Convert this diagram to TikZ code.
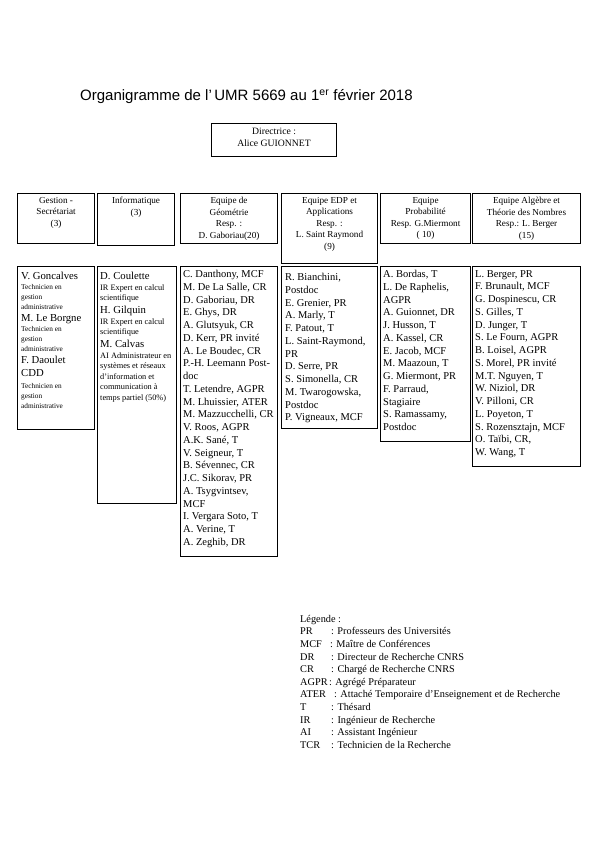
\documentclass[tikz,border=0pt]{standalone}
\usepackage{fontspec}
\setmainfont{Liberation Serif}
\newfontfamily\titrefont{Liberation Sans}
\newcommand{\nm}{\fontsize{10.7}{12}\selectfont}
\newcommand{\sm}{\fontsize{7.3}{9}\selectfont}
\newcommand{\si}{\fontsize{8.3}{9}\selectfont}
\newcommand{\abr}[2][31pt]{\makebox[#1][l]{#2}}
\tikzset{
  cadre/.style={draw,line width=1.1pt,inner sep=0pt,anchor=north west},
  entete/.style={anchor=north,align=center,inner sep=0pt,font=\fontsize{9.2}{11.5}\selectfont},
  liste/.style={anchor=north west,align=left,inner sep=0pt,font=\fontsize{10.5}{12.76}\selectfont},
  legende/.style={anchor=north west,align=left,inner sep=0pt,font=\fontsize{10.3}{12.6}\selectfont},
}
\begin{document}
\begin{tikzpicture}[x=1pt,y=-1pt]
  \useasboundingbox (0,0) rectangle (595,842);
  \node[anchor=base west,inner sep=0pt,font=\titrefont\fontsize{15}{17}\selectfont] (titre) at (80,101)
    {Organigramme de l’\,UMR 5669 au 1\textsuperscript{er} février 2018};
  % direction
  \node[cadre,minimum width=125,minimum height=33] (dir) at (211,123) {};
  \node[entete,font=\fontsize{9.7}{12.3}\selectfont] (dirtxt) at ([yshift=-5]dir.north) {Directrice :\\Alice GUIONNET};
  % services et equipes
  \node[cadre,minimum width=77,minimum height=50] (gest) at (17,193) {};
  \node[cadre,minimum width=77,minimum height=52] (info) at (97,193) {};
  \node[cadre,minimum width=97,minimum height=50] (geom) at (180,193) {};
  \node[cadre,minimum width=96,minimum height=70] (edp) at (281,193) {};
  \node[cadre,minimum width=90,minimum height=50] (prob) at (380,193) {};
  \node[cadre,minimum width=108,minimum height=50] (alg) at (472,193) {};
  \node[entete] (gesttxt) at ([yshift=-4]gest.north) {Gestion -\\Secrétariat\\(3)};
  \node[entete] (infotxt) at ([yshift=-4]info.north) {Informatique\\(3)};
  \node[entete] (geomtxt) at ([yshift=-4]geom.north) {Equipe de\\Géométrie\\Resp. :\\D. Gaboriau(20)};
  \node[entete] (edptxt) at ([yshift=-4]edp.north) {Equipe EDP et\\Applications\\Resp. :\\L. Saint Raymond\\(9)};
  \node[entete] (probtxt) at ([yshift=-4]prob.north) {Equipe\\Probabilité\\Resp. G.Miermont\\( 10)};
  \node[entete] (algtxt) at ([yshift=-4]alg.north) {Equipe Algèbre et\\Théorie des Nombres\\Resp.: L. Berger\\(15)};
  % listes des membres
  \node[cadre,minimum width=77,minimum height=163] (gestl) at (17,266) {};
  \node[cadre,minimum width=79,minimum height=237] (infol) at (97,266) {};
  \node[cadre,minimum width=97,minimum height=290] (geoml) at (180,266) {};
  \node[cadre,minimum width=96,minimum height=162] (edpl) at (281,266) {};
  \node[cadre,minimum width=90,minimum height=175] (probl) at (380,266) {};
  \node[cadre,minimum width=108,minimum height=200] (algl) at (472,266) {};
  \node[liste,font=\fontsize{10}{10}\selectfont] (gestnoms) at ([shift={(4,6)}]gestl.north west)
    {\nm V. Goncalves\\\sm Technicien en\\\sm gestion\\\sm administrative\\[2pt]
     \nm M. Le Borgne\\\sm Technicien en\\\sm gestion\\\sm administrative\\[2pt]
     \nm F. Daoulet\\[3pt]\nm CDD\\[2pt]\sm Technicien en\\\sm gestion\\\sm administrative};
  \node[liste,font=\fontsize{10}{10.5}\selectfont] (infonoms) at ([shift={(3,6)}]infol.north west)
    {\nm D. Coulette\\\si IR Expert en calcul\\\si scientifique\\[2.5pt]
     \nm H. Gilquin\\\si IR Expert en calcul\\\si scientifique\\[2.5pt]
     \nm M. Calvas\\\si AI Administrateur en\\\si systèmes et réseaux\\\si d’information et\\\si communication à\\\si temps partiel (50\%)};
  \node[liste] (geomnoms) at ([shift={(3,4)}]geoml.north west)
    {C. Danthony, MCF\\M. De La Salle, CR\\D. Gaboriau, DR\\E. Ghys, DR\\A. Glutsyuk, CR\\D. Kerr, PR invité\\
     A. Le Boudec, CR\\P.-H. Leemann Post-\\doc\\T. Letendre, AGPR\\M. Lhuissier, ATER\\M. Mazzucchelli, CR\\
     V. Roos, AGPR\\A.K. Sané, T\\V. Seigneur, T\\B. Sévennec, CR\\J.C. Sikorav, PR\\A. Tsygvintsev,\\MCF\\
     I. Vergara Soto, T\\A. Verine, T\\A. Zeghib, DR};
  \node[liste] (edpnoms) at ([shift={(4,7)}]edpl.north west)
    {R. Bianchini,\\Postdoc\\E. Grenier, PR\\A. Marly, T\\F. Patout, T\\L. Saint-Raymond,\\PR\\D. Serre, PR\\
     S. Simonella, CR\\M. Twarogowska,\\Postdoc\\P. Vigneaux, MCF};
  \node[liste] (probnoms) at ([shift={(3,4)}]probl.north west)
    {A. Bordas, T\\L. De Raphelis,\\AGPR\\A. Guionnet, DR\\J. Husson, T\\A. Kassel, CR\\E. Jacob, MCF\\
     M. Maazoun, T\\G. Miermont, PR\\F. Parraud,\\Stagiaire\\S. Ramassamy,\\Postdoc};
  \node[liste] (algnoms) at ([shift={(3,4)}]algl.north west)
    {L. Berger, PR\\F. Brunault, MCF\\G. Dospinescu, CR\\S. Gilles, T\\D. Junger, T\\S. Le Fourn, AGPR\\
     B. Loisel, AGPR\\S. Morel, PR invité\\M.T. Nguyen, T\\W. Niziol, DR\\V. Pilloni, CR\\L. Poyeton, T\\
     S. Rozensztajn, MCF\\O. Taïbi, CR,\\W. Wang, T};
  % legende
  \node[legende] (leg) at (300,615)
    {Légende :\\\abr{PR}: Professeurs des Universités\\\abr[30pt]{MCF}: Maître de Conférences\\
     \abr{DR}: Directeur de Recherche CNRS\\\abr{CR}: Chargé de Recherche CNRS\\
     \abr[29pt]{AGPR}: Agrégé Préparateur\\\abr[34pt]{ATER}: Attaché Temporaire d’Enseignement et de Recherche\\
     \abr{T}: Thésard\\\abr{IR}: Ingénieur de Recherche\\\abr{AI}: Assistant Ingénieur\\
     \abr{TCR}: Technicien de la Recherche};
\end{tikzpicture}
\end{document}
